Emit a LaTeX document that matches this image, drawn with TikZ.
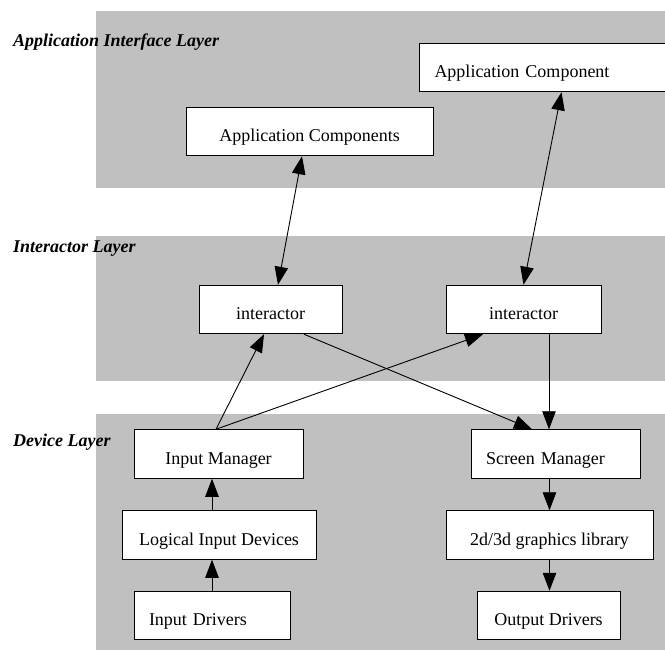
\documentclass[tikz,border=0pt]{standalone}
\usepackage{fontspec}
\setmainfont{Liberation Serif}
\usetikzlibrary{arrows.meta}

\begin{document}
\begin{tikzpicture}[x=1pt,y=-1pt]

	\definecolor{bandgray}{RGB}{192,192,192}

	\tikzstyle{edge} = [draw,line width=0.9pt,-{Triangle[length=18pt,width=13.5pt]}]
	\tikzstyle{twoway} = [draw,line width=0.9pt,{Triangle[length=18pt,width=13.5pt]}-{Triangle[length=18pt,width=13.5pt]}]
	\useasboundingbox (0,0) rectangle (665,650);

	\fill[bandgray] (96,11) rectangle (665,188);
	\fill[bandgray] (96,236) rectangle (665,381);
	\fill[bandgray] (96,414) rectangle (665,650);

	\tikzset{layerlabel/.style = {anchor=base west,inner sep=0pt,font=\fontsize{18}{21}\selectfont\bfseries\itshape}}
	\node[layerlabel] (applayer) at (13,47) {Application Interface Layer};
	\node[layerlabel] (interlayer) at (13,253) {Interactor Layer};
	\node[layerlabel] (devlayer) at (13,446) {Device Layer};

	\tikzset{box/.style = {shape=rectangle,draw,fill=white,line width=1pt,minimum height=48.5pt,text height=20pt,text depth=0pt,font=\fontsize{18}{21}\selectfont}}
	\tikzset{lbox/.style = {box,align=left,inner xsep=15pt}}
	\node[lbox,text width=230pt,anchor=west] (appcomp) at (419,67.5) {Application Component};
	\node[box,minimum width=247pt] (appcomps) at (309.5,131.5) {Application Components};
	\node[box,minimum width=143pt] (inter1) at (270.5,309.5) {interactor};
	\node[box,minimum width=155pt] (inter2) at (523.5,309.5) {interactor};
	\node[box,minimum width=169pt] (inputmgr) at (218.5,454) {Input Manager};
	\node[box,minimum width=194pt] (logical) at (219,535) {Logical Input Devices};
	\node[lbox,text width=126pt] (indrivers) at (212,615.5) {Input Drivers};
	\node[lbox,text width=139pt] (scrmgr) at (555.5,454) {Screen Manager};
	\node[box,minimum width=207pt] (gfx) at (549.5,535) {2d/3d graphics library};
	\node[box,minimum width=143pt] (outdrivers) at (548.5,615.5) {Output Drivers};

	\draw[twoway] ([xshift=-7.5pt]appcomps.south) to ([xshift=7.5pt]inter1.north);
	\draw[twoway] ([xshift=12pt]appcomp.south) to (inter2.north);
	\draw[edge] ([xshift=-2.5pt]inputmgr.north) to ([xshift=-6.5pt]inter1.south);
	\draw[edge] ([xshift=-2.5pt]inputmgr.north) to ([xshift=-40.5pt]inter2.south);
	\draw[edge] ([xshift=33.5pt]inter1.south) to ([xshift=-23.5pt]scrmgr.north);
	\draw[edge] ([xshift=25.5pt]inter2.south) to ([xshift=-6.5pt]scrmgr.north);
	\draw[edge] (scrmgr.south -| gfx) to (gfx.north);
	\draw[edge] (gfx.south) to (gfx.south |- outdrivers.north);
	\draw[edge] (indrivers.north) to (logical.south -| indrivers);
	\draw[edge] (logical.north -| indrivers) to (inputmgr.south -| indrivers);
\end{tikzpicture}
\end{document}
